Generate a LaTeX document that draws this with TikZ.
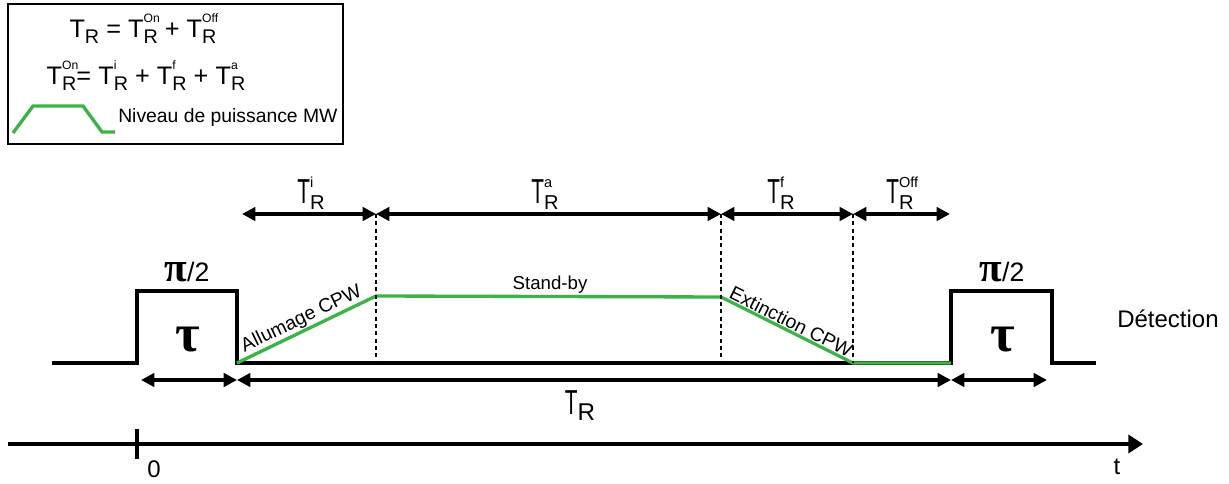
\documentclass[tikz,border=0pt]{standalone}
\usepackage{graphicx}
\usepackage{fontspec}
\setmainfont{Liberation Sans}
\newfontfamily\greekfont{Liberation Serif}
\usetikzlibrary{arrows.meta}
\definecolor{mwgreen}{RGB}{60,178,72}
\newcommand{\TRleg}[1]{T\rlap{\raisebox{0.6em}{\scalebox{0.48}{#1}}}\raisebox{-0.2em}{\scalebox{0.78}{R}}}
\newcommand{\TRbig}[1]{\scalebox{0.6}[1]{T}\rlap{\raisebox{0.48em}{\scalebox{0.42}{#1}}}\raisebox{-0.16em}{\scalebox{0.58}{R}}}
\tikzset{
  sig/.style={line width=2.5pt},
  mw/.style={line width=2.5pt, draw=mwgreen},
  dashline/.style={line width=1.5pt, dash pattern=on 3pt off 2.5pt},
  spanarrow/.style={line width=2.7pt, {Triangle[length=10pt,width=10pt]}-{Triangle[length=10pt,width=10pt]}},
  biglab/.style={font=\fontsize{26}{30}\selectfont, anchor=base, inner sep=0pt},
  leglab/.style={font=\fontsize{19}{23}\selectfont, anchor=base, inner sep=0pt},
  small/.style={font=\fontsize{14.5}{17}\selectfont, inner sep=1.5pt},
  axislab/.style={font=\fontsize{18}{21}\selectfont, anchor=base, inner sep=0pt}
}
\begin{document}
\begin{tikzpicture}[x=0.75pt,y=-0.75pt]
\useasboundingbox (0,0) rectangle (1229,484);

\draw[line width=1pt] (8,4) rectangle (343,144);
\node[leglab] (eq1) at (143,38) {T\raisebox{-0.2em}{\scalebox{0.78}{R}} = \TRleg{On} + \TRleg{Off}};
\node[leglab] (eq2) at (146,85) {\TRleg{On}= \TRleg{i} + \TRleg{f} + \TRleg{a}};
\draw[mw] (13,133) -- (33,106) -- (83,106) -- (102,132) -- (115,132);
\node[font=\fontsize{14.5}{17}\selectfont, anchor=base west, inner sep=0pt] (legtxt) at (118,123) {Niveau de puissance MW};

\coordinate (b) at (0,363);
\coordinate (p1) at (237,363);
\coordinate (on) at (376,296);
\coordinate (off) at (721,297);
\coordinate (low) at (853,363);
\coordinate (p2) at (951,363);

\draw[sig] (52,363) -- (137,363) -- (137,291) -- (237,291) -- (p1) -- (p2) -- (951,291) -- (1052,291) -- (1052,363) -- (1096,363);
\draw[mw] (p1) -- (on) -- (off) -- (low) -- (p2);

\coordinate (ti) at (242,214);
\coordinate (ta) at (376,214);
\coordinate (tf) at (721,214);
\coordinate (toff) at (853,214);
\coordinate (tend) at (950,214);
\draw[dashline] (ta) -- (ta |- b);
\draw[dashline] (tf) -- (tf |- b);
\draw[dashline] (toff) -- (low);
\draw[spanarrow] (ti) -- (ta);
\draw[spanarrow] (ta) -- (tf);
\draw[spanarrow] (tf) -- (toff);
\draw[spanarrow] (toff) -- (tend);
\node[biglab] (labi) at (311,204) {\TRbig{i}};
\node[biglab] (laba) at (545,204) {\TRbig{a}};
\node[biglab] (labf) at (781,204) {\TRbig{f}};
\node[biglab] (laboff) at (900,204) {\TRbig{Off}};

\path (p1) -- node[small, sloped, above] (allum) {Allumage CPW} (on);
\path (off) -- node[small, sloped, above] (extinc) {Extinction CPW} (low);
\node[anchor=base, inner sep=0pt, font=\fontsize{14}{16}\selectfont] (standby) at (550,290) {Stand-by};

\node[font=\fontsize{20}{24}\selectfont, anchor=base, inner sep=0pt] (pi1) at (187,282) {{\greekfont\bfseries\fontsize{31}{31}\selectfont π}/2};
\node[font=\fontsize{20}{24}\selectfont, anchor=base, inner sep=0pt] (pi2) at (1002,282) {{\greekfont\bfseries\fontsize{31}{31}\selectfont π}/2};
\node[font=\greekfont\bfseries\fontsize{40}{40}\selectfont, anchor=base, inner sep=0pt] (tau1) at (188,352) {τ};
\node[font=\greekfont\bfseries\fontsize{40}{40}\selectfont, anchor=base, inner sep=0pt] (tau2) at (1003,352) {τ};
\node[axislab, anchor=base west] (detect) at (1117,328) {Détection};

\coordinate (bl) at (141,380);
\coordinate (bm) at (237,380);
\coordinate (br) at (951,380);
\coordinate (be) at (1047,380);
\draw[spanarrow] (bl) -- (bm);
\draw[spanarrow] (bm) -- (br);
\draw[spanarrow] (br) -- (be);
\node[biglab] (labtr) at (580,415) {\scalebox{0.6}[1]{T}\raisebox{-0.16em}{\scalebox{0.7}{R}}};

\coordinate (ax0) at (8,444);
\coordinate (ax1) at (1143,444);
\draw[line width=3pt, -{Triangle[length=11pt,width=13.5pt]}] (ax0) -- (ax1);
\draw[line width=2.5pt] (137,429) -- (137,459);
\node[axislab] (zero) at (154,478) {0};
\node[axislab] (tlab) at (1117,475) {t};
\end{tikzpicture}
\end{document}
